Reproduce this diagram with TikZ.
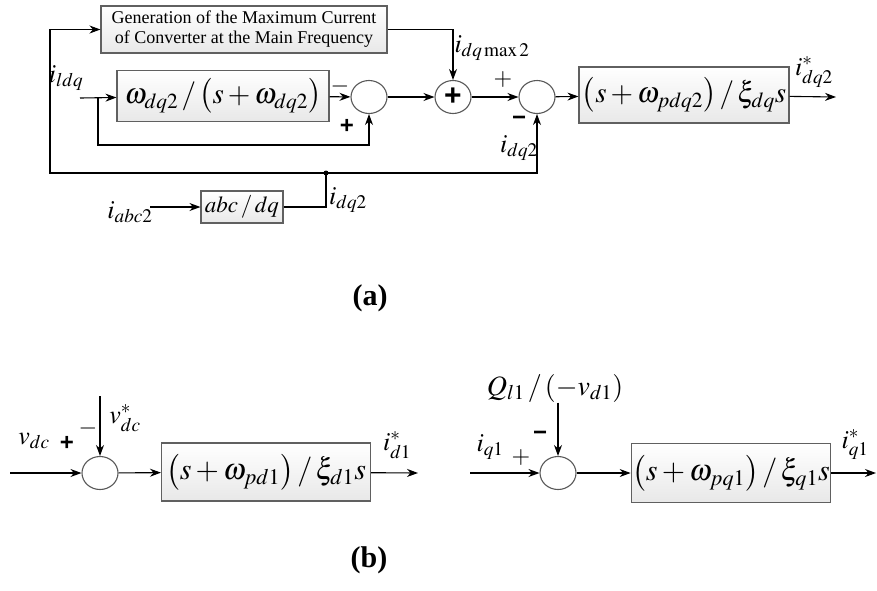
\documentclass[tikz,border=0pt]{standalone}
\usepackage{mathptmx}
\usepackage[no-math]{fontspec}
\setmainfont{Liberation Serif}
\newfontfamily\sgnfont{Liberation Sans}
\usepackage{tikz}
\usetikzlibrary{shapes.geometric, arrows.meta, calc}
\tikzset{
	blk/.style={rectangle, draw=gray!75!black, top color=white, bottom color=gray!18, inner sep=1pt}, %transfer function blocks
	sumnode/.style={ellipse, draw=gray!70!black, minimum width=36pt, minimum height=33pt, inner sep=0pt}, %summing junctions
	lbl/.style={font=\fontsize{26}{28}\selectfont, inner sep=0pt},
	sgn/.style={font=\sgnfont\bfseries\fontsize{24}{24}\selectfont, inner sep=0pt},
	thinsgn/.style={font=\fontsize{24}{24}\selectfont, inner sep=0pt},
}

\begin{document}
\begin{tikzpicture}[x=1pt, y=-1pt, ->, >={Stealth[length=11pt,width=8pt]}, line width=1.1pt]
			\useasboundingbox (0,0) rectangle (877,590);
			\node (gen) at (244,29.5) [blk, minimum width=286pt, minimum height=47pt, align=center, font=\fontsize{18}{20}\selectfont] {Generation of the Maximum Current\\of Converter at the Main Frequency};
			\node (lpf) at (223,96) [blk, minimum width=212pt, minimum height=51pt, font=\fontsize{29}{30}\selectfont] {$\omega_{dq2}\,/\left(s+\omega_{dq2}\right)$};
			\node (sum1) at (369,97) [sumnode] {};
			\node (sum2) at (453,97) [sumnode, font=\sgnfont\bfseries\fontsize{30}{30}\selectfont] {+};
			\node (sum3) at (537,97) [sumnode] {};
			\node (pi) at (684,95) [blk, minimum width=210pt, minimum height=56pt, font=\fontsize{29}{30}\selectfont] {$\left(s+\omega_{pdq2}\right)/\,\xi_{dq}s$};
			\node (abc) at (242,207) [blk, minimum width=82pt, minimum height=32pt, font=\fontsize{23}{24}\selectfont] {$abc\,/\,dq$};
			\coordinate (in) at (80,98);
			\coordinate (br) at (98,98);
			\coordinate (brb) at (98,145);
			\coordinate (j) at (326,173);
			\coordinate (bl) at (50,173);
			\coordinate (out) at (836,97);
			\coordinate (iabcin) at (150,207);
			\draw (in) -- (lpf);
			\draw (br) -- (brb) -| (sum1.south);
			\draw (lpf) -- (sum1);
			\draw (sum1) -- (sum2);
			\draw (sum2) -- (sum3);
			\draw (sum3) -- (pi);
			\draw (pi) -- (out);
			\draw (gen.east) -| (sum2.north);
			\draw (j) -| (sum3.south);
			\draw (j) -- (bl) |- (gen.west);
			\draw[-] (abc) -| (j);
			\draw (iabcin) -- (abc);
			\fill (j) circle (2.5pt);
			\node (ildq) at (66,78) [lbl] {$i_{ldq}$};
			\node (imax) at (492,48) [lbl] {$i_{dq\,\mathrm{max}\,2}$};
			\node (m1) at (340,86) [thinsgn] {$-$};
			\node (p1) at (347,126) [sgn] {+};
			\node (p2) at (503,80) [thinsgn] {$+$};
			\node (m2) at (519,121) [sgn] {\char"2212};
			\node (idqa) at (519,148) [lbl] {$i_{dq2}$};
			\node (istar) at (814,72) [lbl] {$i^*_{dq2}$};
			\node (idqb) at (348,200) [lbl] {$i_{dq2}$};
			\node (iabc) at (130,212) [lbl] {$i_{abc2}$};
			\node (capa) at (370,298) [font=\bfseries\fontsize{30}{32}\selectfont] {(a)};
			\node (sumd) at (100,473) [sumnode] {};
			\node (pid) at (266,472) [blk, minimum width=209pt, minimum height=58pt, font=\fontsize{30}{32}\selectfont] {$\left(s+\omega_{pd1}\right)/\,\xi_{d1}s$};
			\coordinate (din) at (10,473);
			\coordinate (vtop) at (100,396);
			\coordinate (dout) at (418,473);
			\draw (din) -- (sumd);
			\draw (vtop) -- (sumd);
			\draw (sumd) -- (pid);
			\draw (pid) -- (dout);
			\node (vdc) at (34,441) [lbl] {$v_{dc}$};
			\node (p3) at (67,443) [sgn] {+};
			\node (m3) at (88,428) [thinsgn] {$-$};
			\node (vref) at (125,418) [lbl] {$v^*_{dc}$};
			\node (idstar) at (397,445) [lbl] {$i^*_{d1}$};
			\node (sumq) at (558,473) [sumnode] {};
			\node (piq) at (731,473) [blk, minimum width=195pt, minimum height=59pt, font=\fontsize{30}{32}\selectfont] {$\left(s+\omega_{pq1}\right)/\,\xi_{q1}s$};
			\node (qref) at (555,388) [lbl, font=\fontsize{28}{30}\selectfont] {$Q_{l1}\,/\left(-v_{d1}\right)$};
			\coordinate (qin) at (470,473);
			\coordinate (qout) at (876,473);
			\draw (qin) -- (sumq);
			\draw (qref.south -| sumq.north) -- (sumq);
			\draw (sumq) -- (piq);
			\draw (piq) -- (qout);
			\node (iq) at (490,447) [lbl] {$i_{q1}$};
			\node (p4) at (521,457) [thinsgn] {$+$};
			\node (m4) at (540,436) [sgn] {\char"2212};
			\node (iqstar) at (855,445) [lbl] {$i^*_{q1}$};
			\node (capb) at (369,560) [font=\bfseries\fontsize{30}{32}\selectfont] {(b)};
		\end{tikzpicture}
\end{document}
